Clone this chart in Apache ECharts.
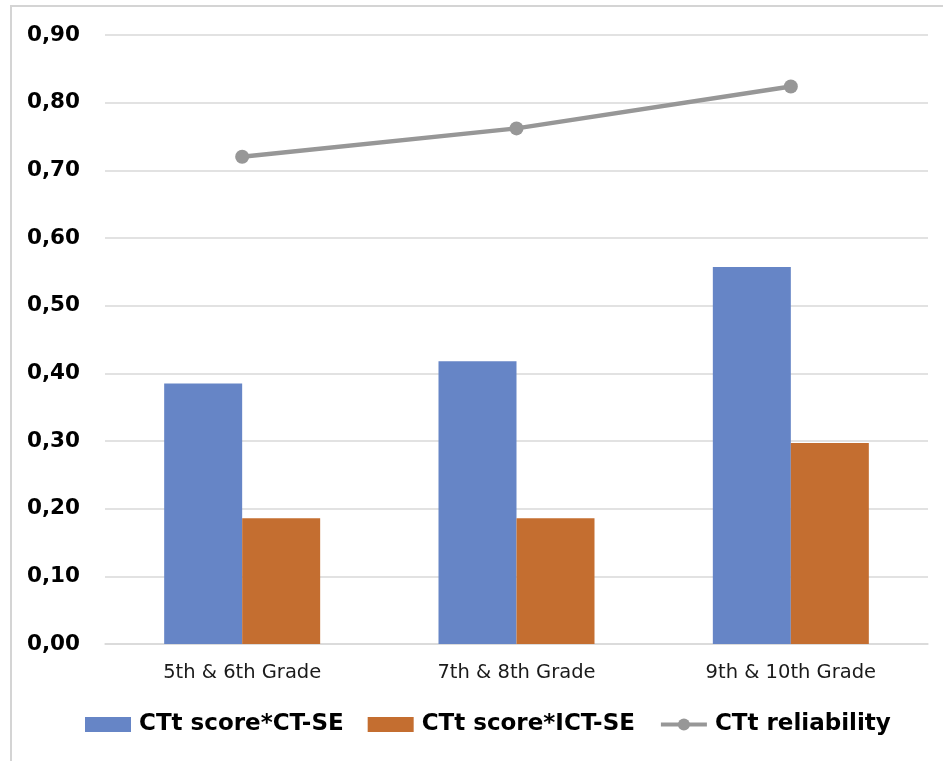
<!DOCTYPE html>
<html>
<head>
<meta charset="utf-8">
<script src="https://cdn.jsdelivr.net/npm/echarts@6/dist/echarts.min.js"></script>
<style>
  html, body { margin: 0; padding: 0; background: #fff; }
  #chart { width: 943px; height: 761px; }
</style>
</head>
<body>
<div id="chart"></div>
<script>
// Grade groups on the x axis
const categories = ['5th & 6th Grade', '7th & 8th Grade', '9th & 10th Grade'];
// Correlations of CTt score with self-efficacy scales
const ctSe = [0.385, 0.418, 0.557];
const ictSe = [0.186, 0.186, 0.297];
// Reliability of the CTt per grade group
const reliability = [0.720, 0.762, 0.824];

const seriesNames = ['CTt score*CT-SE', 'CTt score*ICT-SE', 'CTt reliability'];
const FONT = '"DejaVu Sans", Verdana, sans-serif';
const LINE_GREY = '#979797';

const chart = echarts.init(document.getElementById('chart'), null, { renderer: 'canvas' });
chart.setOption({
  animation: false,
  backgroundColor: '#ffffff',
  graphic: [{
    type: 'rect',
    shape: { x: 11, y: 6, width: 960, height: 800 },
    style: { fill: 'none', stroke: '#d4d4d4', lineWidth: 2 },
    silent: true, z: -1
  }],
  grid: { left: 105, right: 15, top: 35, bottom: 117, containLabel: false },
  legend: {
    top: 708,
    left: 80,
    itemWidth: 46,
    itemHeight: 15,
    itemGap: 24,
    textStyle: { fontFamily: FONT, fontSize: 23, fontWeight: 'bold', color: '#000', padding: [0, 0, 0, 3] },
    data: [
      { name: seriesNames[0], icon: 'rect' },
      { name: seriesNames[1], icon: 'rect' },
      { name: seriesNames[2], lineStyle: { width: 4, color: LINE_GREY } }
    ]
  },
  xAxis: {
    type: 'category',
    data: categories,
    axisLine: { show: true, lineStyle: { color: '#d9d9d9', width: 1.5 } },
    axisTick: { show: false },
    axisLabel: { fontFamily: FONT, fontSize: 19.5, color: '#1a1a1a', margin: 19 }
  },
  yAxis: {
    type: 'value',
    min: 0, max: 0.9, interval: 0.1,
    axisLine: { show: false },
    axisTick: { show: false },
    splitLine: { lineStyle: { color: '#d9d9d9', width: 1.5 } },
    axisLabel: {
      fontFamily: FONT, fontSize: 21.5, fontWeight: 'bold', color: '#000', margin: 25,
      formatter: v => v.toFixed(2).replace('.', ',')
    }
  },
  series: [
    {
      name: seriesNames[0], type: 'bar', data: ctSe,
      barWidth: 78, barGap: '0%',
      itemStyle: { color: '#6685c6' }
    },
    {
      name: seriesNames[1], type: 'bar', data: ictSe,
      barWidth: 78, barGap: '0%',
      itemStyle: { color: '#c46e30' }
    },
    {
      name: seriesNames[2], type: 'line', data: reliability,
      symbol: 'circle', symbolSize: 14,
      lineStyle: { color: LINE_GREY, width: 4.5 },
      itemStyle: { color: LINE_GREY },
      z: 5
    }
  ]
});
</script>
</body>
</html>
